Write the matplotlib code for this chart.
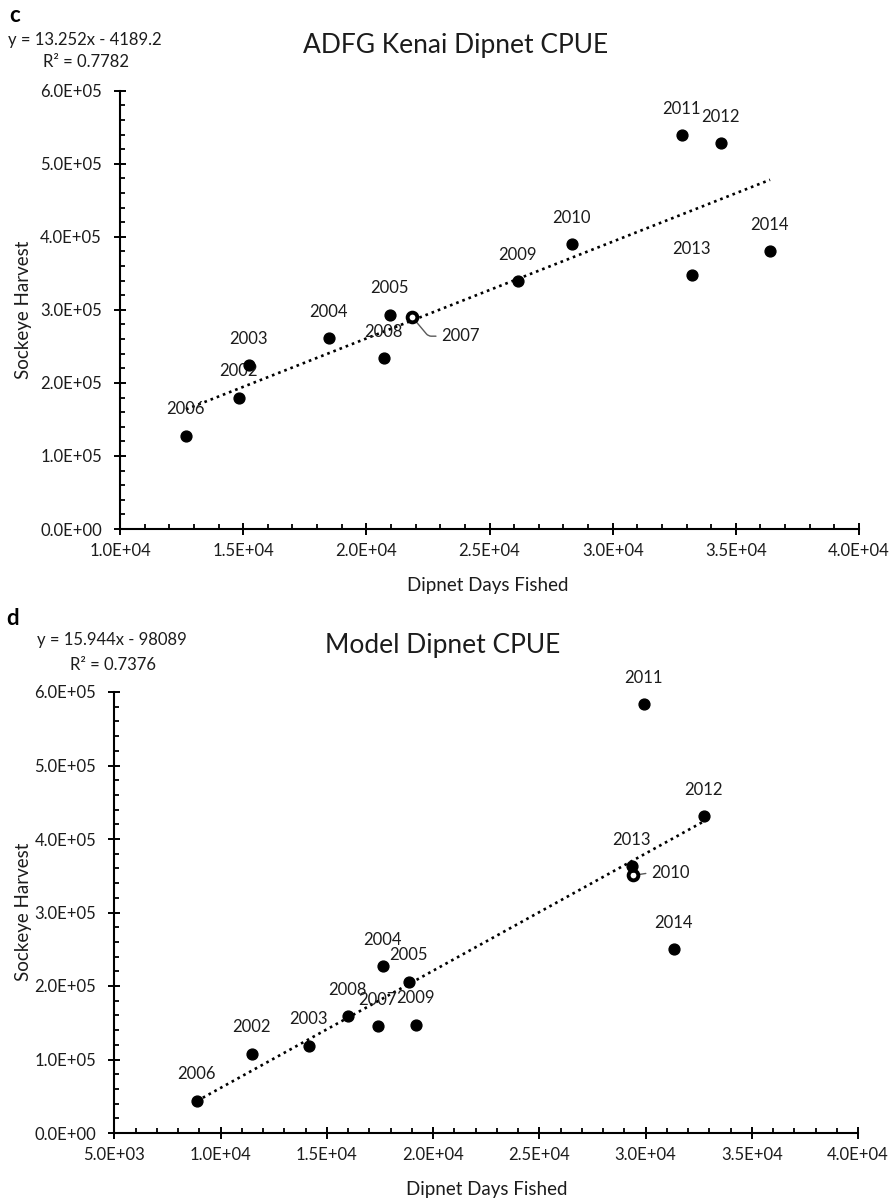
import numpy as np
import matplotlib
matplotlib.use("Agg")
import matplotlib.pyplot as plt
from matplotlib.ticker import MultipleLocator, FuncFormatter

plt.rcParams["font.family"] = ["Lato", "DejaVu Sans"]

# ADFG Kenai dipnet: days fished vs sockeye harvest
years_c = ["2002", "2003", "2004", "2005", "2006", "2007", "2008",
           "2009", "2010", "2011", "2012", "2013", "2014"]
days_c = [14844, 15238, 18473, 20962, 12680, 21868, 20731,
          26147, 28340, 32810, 34390, 33210, 36390]
harvest_c = [179800, 224200, 261600, 293600, 127900, 290000, 234200,
             339300, 390000, 538900, 528400, 347500, 380400]
fit_c = (13.252, -4189.2)
r2_c = 0.7782

# model dipnet
years_d = ["2002", "2003", "2004", "2005", "2006", "2007", "2008",
           "2009", "2010", "2011", "2012", "2013", "2014"]
days_d = [11498, 14157, 17644, 18874, 8889, 17393, 16014,
          19200, 29423, 29925, 32760, 29373, 31355]
harvest_d = [108000, 118900, 226900, 206100, 43800, 145000, 159100,
             147600, 350500, 583700, 431400, 362600, 250400]
fit_d = (15.944, -98089)
r2_d = 0.7376

TXT = "#1c1c1c"
W, H = 896.0, 1201.0


def sci(v, pos):
    # Excel style 0.0E+00 labels
    if v == 0:
        return "0.0E+00"
    e = int(np.floor(np.log10(abs(v))))
    return "%.1fE+%02d" % (v / 10 ** e, e)


def draw_panel(ax, years, days, harvest, fit, xlim, leader):
    for s in ["top", "right"]:
        ax.spines[s].set_visible(False)
    for s in ["left", "bottom"]:
        ax.spines[s].set_linewidth(1.5)
        ax.spines[s].set_color("black")

    xs = np.array([min(days), max(days)])
    ax.plot(xs, fit[0] * xs + fit[1], color="black", lw=1.9,
            linestyle=(0, (1, 1.5)), zorder=3)

    for yr, x, y in zip(years, days, harvest):
        if yr == leader[0]:
            ax.plot(x, y, "o", ms=7.0, mfc="white", mec="black", mew=2.8, zorder=4)
            ax.annotate(yr, (x, y), xytext=leader[1], textcoords="offset points",
                        ha="left", va="center", fontsize=12, color=TXT,
                        arrowprops=dict(arrowstyle="-", color="#595959", lw=1.0,
                                        shrinkA=2, shrinkB=4, relpos=(0, 0.5),
                                        connectionstyle=leader[2]))
        else:
            ax.plot(x, y, "o", ms=7.8, color="black", zorder=4)
            ax.annotate(yr, (x, y), xytext=(-0.5, 19), textcoords="offset points",
                        ha="center", va="center", fontsize=12, color=TXT)

    ax.set_xlim(xlim)
    ax.set_ylim(0, 6.0e5)
    ax.xaxis.set_major_locator(MultipleLocator(5000))
    ax.xaxis.set_minor_locator(MultipleLocator(1000))
    ax.yaxis.set_major_locator(MultipleLocator(1.0e5))
    ax.yaxis.set_minor_locator(MultipleLocator(2.0e4))
    ax.xaxis.set_major_formatter(FuncFormatter(sci))
    ax.yaxis.set_major_formatter(FuncFormatter(sci))
    ax.tick_params(which="major", direction="inout", length=8, width=1.4,
                   labelsize=12, labelcolor=TXT, color="black")
    ax.tick_params(axis="x", which="major", pad=6)
    ax.tick_params(axis="y", which="major", pad=9)
    ax.tick_params(which="minor", direction="in", length=3.5, width=1.3, color="black")


fig = plt.figure(figsize=(W / 100, H / 100), dpi=100)
ax_c = fig.add_axes([120 / W, 1 - 529 / H, 739 / W, 438.3 / H])
ax_d = fig.add_axes([114.4 / W, 1 - 1133 / H, 743.6 / W, 441 / H])

draw_panel(ax_c, years_c, days_c, harvest_c, fit_c, (1.0e4, 4.0e4),
           ("2007", (21, -13.7), "angle,angleA=0,angleB=-50,rad=3"))
draw_panel(ax_d, years_d, days_d, harvest_d, fit_d, (5.0e3, 4.0e4),
           ("2010", (13, 2), "arc3"))

# titles, axis labels and fit text placed in figure pixels
fig.text(456 / W, 1 - 45 / H, "ADFG Kenai Dipnet CPUE", ha="center", va="center",
         fontsize=19, color=TXT)
fig.text(443 / W, 1 - 645 / H, "Model Dipnet CPUE", ha="center", va="center",
         fontsize=19, color=TXT)
fig.text(488 / W, 1 - 585 / H, "Dipnet Days Fished", ha="center", va="center",
         fontsize=13.5, color=TXT)
fig.text(487 / W, 1 - 1190 / H, "Dipnet Days Fished", ha="center", va="center",
         fontsize=13.5, color=TXT)
fig.text(24 / W, 1 - 310 / H, "Sockeye Harvest", ha="center", va="center",
         rotation=90, fontsize=13.5, color=TXT)
fig.text(24 / W, 1 - 912 / H, "Sockeye Harvest", ha="center", va="center",
         rotation=90, fontsize=13.5, color=TXT)

fig.text(15 / W, 1 - 15 / H, "c", ha="center", va="center", fontsize=16,
         fontweight="bold", color="black")
fig.text(13 / W, 1 - 618 / H, "d", ha="center", va="center", fontsize=16,
         fontweight="bold", color="black")

fig.text(8 / W, 1 - 40 / H, "y = %.3fx - %.1f" % (fit_c[0], -fit_c[1]),
         ha="left", va="center", fontsize=12, color=TXT)
fig.text(86 / W, 1 - 62 / H, "R² = %.4f" % r2_c, ha="center", va="center",
         fontsize=12, color=TXT)
fig.text(37 / W, 1 - 640 / H, "y = %.3fx - %d" % (fit_d[0], -fit_d[1]),
         ha="left", va="center", fontsize=12, color=TXT)
fig.text(113 / W, 1 - 665 / H, "R² = %.4f" % r2_d, ha="center", va="center",
         fontsize=12, color=TXT)

fig.savefig("out.png", dpi=100)
plt.close(fig)
